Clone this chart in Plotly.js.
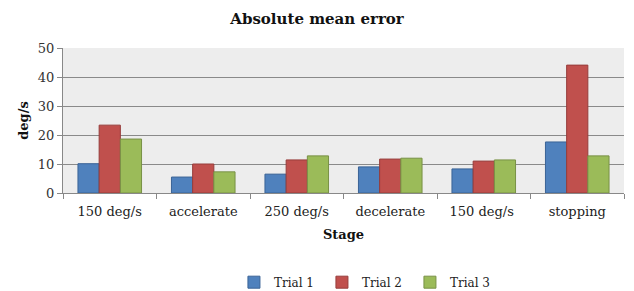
<!DOCTYPE html>
<html><head><meta charset="utf-8">
<script src="https://cdn.plot.ly/plotly-3.0.1.min.js"></script>
<style>body{margin:0;background:#fff}#c{width:634px;height:291px}</style>
</head><body><div id="c"></div>
<script>
var categories = ["150 deg/s", "accelerate", "250 deg/s", "decelerate", "150 deg/s ", "stopping"];
var trial1 = [10.1, 5.5, 6.5, 9.0, 8.3, 17.6];
var trial2 = [23.4, 10.0, 11.4, 11.7, 11.0, 44.1];
var trial3 = [18.6, 7.3, 12.8, 12.0, 11.4, 12.8];
var names = ["Trial 1", "Trial 2", "Trial 3"];
var fills = ["#4F81BD", "#C0504D", "#9BBB59"];
var lines = ["#3A6396", "#963C3A", "#789146"];
var F = "DejaVu Serif, Liberation Serif, serif";
var series = [trial1, trial2, trial3];
var data = series.map(function(s, i){
  return {type:"bar", x:categories, y:s, name:names[i],
    marker:{color:fills[i], line:{color:lines[i], width:1}}};
});
var layout = {
  width:634, height:291,
  margin:{l:63, r:10, t:48, b:98, autoexpand:false},
  paper_bgcolor:"#fff", plot_bgcolor:"#EDEDED",
  barmode:"group", bargap:0.32, bargroupgap:0,
  title:{text:"<b>Absolute mean error</b>", font:{family:F, size:15, color:"#111"}, x:0.5, xanchor:"center", xref:"container", y:0.935, yanchor:"middle"},
  font:{family:F, size:13, color:"#222"},
  xaxis:{type:"category", tickson:"boundaries", ticks:"outside", ticklen:5, tickcolor:"#888",
    showline:true, linecolor:"#888", showgrid:false, ticklabelstandoff:6, tickfont:{family:F, size:13, color:"#222"},
    title:{text:"<b>Stage</b>", font:{family:F, size:13, color:"#111"}, standoff:12}},
  yaxis:{range:[0,50], dtick:10, ticks:"outside", ticklen:5, tickcolor:"#888",
    showline:true, linecolor:"#888", gridcolor:"#8A8A8A", gridwidth:1, zeroline:false,
    tickfont:{family:F, size:13, color:"#333"},
    title:{text:"<b>deg/s</b>", font:{family:F, size:13, color:"#111"}, standoff:6}},
  legend:{orientation:"h", x:0.54, xanchor:"center", y:-0.615, yanchor:"middle",
    font:{family:F, size:12, color:"#222"}, itemwidth:30, entrywidth:43, traceorder:"normal"},
  showlegend:true
};
Plotly.newPlot("c", data, layout, {displayModeBar:false, staticPlot:true});
</script></body></html>
